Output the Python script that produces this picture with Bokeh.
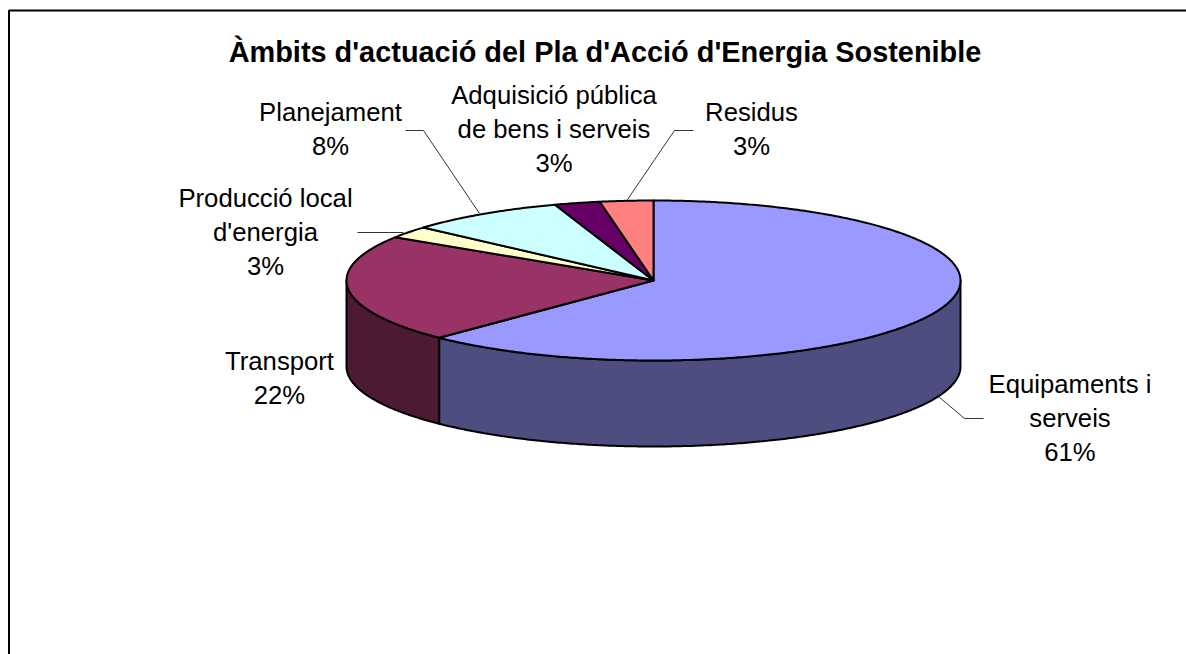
import numpy as np
from bokeh.plotting import figure
from bokeh.models import Range1d
from bokeh.core.properties import value
from bokeh.embed import file_html
from bokeh.resources import INLINE

title_text = "Àmbits d'actuació del Pla d'Acció d'Energia Sostenible"
categories = ["Equipaments i serveis", "Transport", "Producció local d'energia",
              "Planejament", "Adquisició pública de bens i serveis", "Residus"]
shares = [62.3, 21.8, 2.4, 8.3, 2.4, 2.8]
percent_labels = ["61%", "22%", "3%", "8%", "3%", "3%"]
label_lines = [["Equipaments i", "serveis"], ["Transport"], ["Producció local", "d'energia"],
               ["Planejament"], ["Adquisició pública", "de bens i serveis"], ["Residus"]]
top_colors = ["#9999FF", "#993366", "#FFFFCC", "#CCFFFF", "#660066", "#FF8080"]
side_colors = ["#4D4D80", "#4D1A33"]

# layout, in page pixels
CX, CY, A, B, DEPTH = 653, 280, 307, 80, 86
LABEL_POS = [(1069.5, 383), (279, 360), (265, 197), (330, 111), (553.5, 94), (751, 111)]
LINE_H = 34
LEADERS = [([938, 964, 983], [396, 418, 418]),
           ([403, 357], [232, 232]),
           ([479, 423, 405], [213, 130, 130]),
           ([627, 674, 693], [199, 130, 130])]

p = figure(width=1186, height=654, output_backend="svg", toolbar_location=None,
           x_range=Range1d(0, 1186), y_range=Range1d(654, 0), min_border=0,
           outline_line_color=None, background_fill_color="white")
p.axis.visible = False
p.grid.visible = False


def arc(t0, t1, dy=0.0):
    t = np.radians(np.linspace(t0, t1, max(2, int(abs(t1 - t0) * 2) + 2)))
    return CX + A * np.sin(t), CY + dy - B * np.cos(t)


edges = np.concatenate([[0.0], np.cumsum(shares)]) / sum(shares) * 360

# frame
p.line([8.5, 8.5, 1186], [654, 10, 10], line_color="black", line_width=2)

# visible rim (front half of the ellipse)
for i, c in enumerate(side_colors):
    t0, t1 = max(edges[i], 90), min(edges[i + 1], 270)
    x0, y0 = arc(t0, t1)
    x1, y1 = arc(t1, t0, DEPTH)
    p.patch(np.r_[x0, x1], np.r_[y0, y1], fill_color=c, line_color="black",
            line_width=2, line_join="round")

# top faces
for i, c in enumerate(top_colors):
    x, y = arc(edges[i], edges[i + 1])
    p.patch(np.r_[CX, x], np.r_[CY, y], fill_color=c, line_color="black",
            line_width=2, line_join="round")

# leaders
for lx, ly in LEADERS:
    p.line(lx, ly, line_color="#333333", line_width=1)

# labels
xs, ys, texts = [], [], []
for lines, pct, (lx, ly) in zip(label_lines, percent_labels, LABEL_POS):
    for k, t in enumerate(lines + [pct]):
        xs.append(lx)
        ys.append(ly + k * LINE_H)
        texts.append(t)
p.text(xs, ys, text=texts, text_font=value("Liberation Sans"), text_font_size="25.7px",
       text_color="black", text_align="center", text_baseline="alphabetic")

p.text([604.5], [51], text=[title_text], text_font=value("Liberation Sans"),
       text_font_size="28.9px", text_font_style="bold", text_color="black",
       text_align="center", text_baseline="alphabetic")

open("out.html", "w").write(file_html(p, INLINE))
